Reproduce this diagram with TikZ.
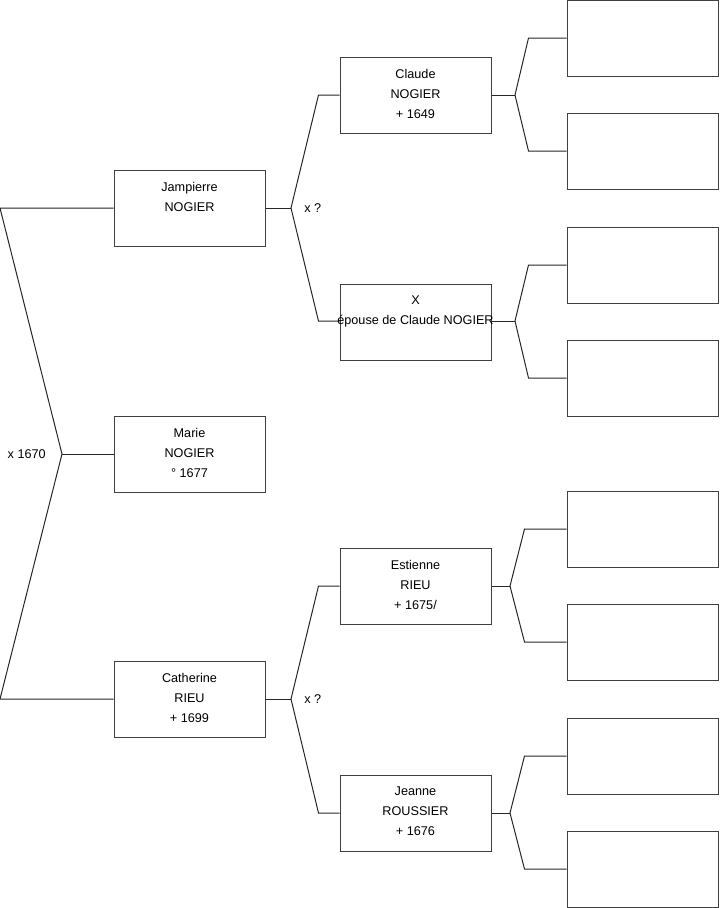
\documentclass[tikz,border=0pt]{standalone}
\usepackage{fontspec}
\setmainfont{Liberation Sans}
\usepackage{tikz}
\usetikzlibrary{positioning}

\begin{document}
\begin{tikzpicture}[x=0.75pt, y=-0.75pt,
    box/.style={draw=black!75, line width=0.75pt, minimum width=113.25pt, minimum height=57pt, inner sep=0pt},
    txt/.style={align=center, inner sep=0pt, font=\fontsize{9.5}{15}\selectfont},
    link/.style={black!85, line width=0.75pt}]
    \useasboundingbox (0,0) rectangle (719,908);
    % generation 1
    \node[box] (jampierre) at (189.5,208) {};
    \node[txt, anchor=north] (jampierre-t) at ([yshift=-9.25pt]jampierre.north) {Jampierre\\NOGIER};
    \node[box] (marie) at (189.5,454) {};
    \node[txt, anchor=north] (marie-t) at ([yshift=-9.25pt]marie.north) {Marie\\NOGIER\\° 1677};
    \node[box] (catherine) at (189.5,699) {};
    \node[txt, anchor=north] (catherine-t) at ([yshift=-9.25pt]catherine.north) {Catherine\\RIEU\\+ 1699};
    % generation 2
    \node[box] (claude) at (415.5,95) {};
    \node[txt, anchor=north] (claude-t) at ([yshift=-9.25pt]claude.north) {Claude\\NOGIER\\+ 1649};
    \node[box] (epouse) at (415.5,322) {};
    \node[box] (estienne) at (415.5,586) {};
    \node[txt, anchor=north] (estienne-t) at ([yshift=-9.25pt]estienne.north) {Estienne\\RIEU\\+ 1675/};
    \node[box] (jeanne) at (415.5,813) {};
    \node[txt, anchor=north] (jeanne-t) at ([yshift=-9.25pt]jeanne.north) {Jeanne\\ROUSSIER\\+ 1676};
    % generation 3, empty boxes
    \foreach \i/\y in {1/38, 2/151, 3/265, 4/378, 5/529, 6/642, 7/756, 8/869} {
      \node[box] (r\i) at (642.5,\y) {};
    }
    % fork points
    \coordinate (f0) at (62,454);
    \coordinate (f1) at (291,208);
    \coordinate (f2) at (291,699);
    \coordinate (f3) at (515,95);
    \coordinate (f4) at (515,321);
    \coordinate (f5) at (510,586);
    \coordinate (f6) at (510,813);
    % marriage of the parents
    \draw[link] (jampierre.west) -- (jampierre.west -| 0,0) -- (f0) -- (catherine.west -| 0,0) -- (catherine.west);
    \draw[link] (f0) -- (marie.west);
    \node[txt, anchor=east] (m0) at ([xshift=-12pt]f0) {x 1670};
    % grandparents
    \draw[link] (jampierre.east) -- (f1);
    \draw[link] (claude.west) -- ([xshift=-15.75pt]claude.west) -- (f1) -- ([xshift=-15.75pt]epouse.west |- f4) -- (epouse.west |- f4);
    \node[txt, anchor=west] (m1) at ([xshift=9.75pt]f1) {x ?};
    \draw[link] (catherine.east) -- (f2);
    \draw[link] (estienne.west) -- ([xshift=-15.75pt]estienne.west) -- (f2) -- ([xshift=-15.75pt]jeanne.west) -- (jeanne.west);
    \node[txt, anchor=west] (m2) at ([xshift=9.75pt]f2) {x ?};
    % great-grandparents
    \draw[link] (claude.east) -- (f3);
    \draw[link] (r1.west) -- ([xshift=-28.5pt]r1.west) -- (f3) -- ([xshift=-28.5pt]r2.west) -- (r2.west);
    \draw[link] (epouse.east |- f4) -- (f4);
    \draw[link] (r3.west) -- ([xshift=-28.5pt]r3.west) -- (f4) -- ([xshift=-28.5pt]r4.west) -- (r4.west);
    \draw[link] (estienne.east) -- (f5);
    \draw[link] (r5.west) -- ([xshift=-31.5pt]r5.west) -- (f5) -- ([xshift=-31.5pt]r6.west) -- (r6.west);
    \draw[link] (jeanne.east) -- (f6);
    \draw[link] (r7.west) -- ([xshift=-31.5pt]r7.west) -- (f6) -- ([xshift=-31.5pt]r8.west) -- (r8.west);
    % text of the wife, wider than its box
    \node[txt, anchor=north] (epouse-t) at ([yshift=-9.25pt]epouse.north) {X\\épouse de Claude NOGIER};
\end{tikzpicture}
\end{document}
